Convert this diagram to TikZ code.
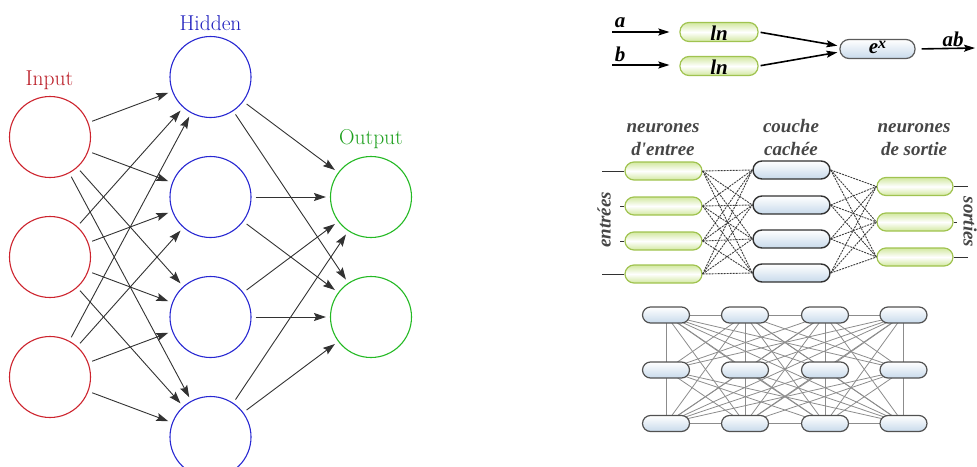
\documentclass[tikz,border=0pt]{standalone}
\usepackage{fontspec}
\newfontfamily\rfont{Liberation Serif}
\usetikzlibrary{arrows.meta,calc}
\pgfdeclarelayer{background}
\pgfsetlayers{background,main}
\definecolor{inred}{RGB}{205,35,45}
\definecolor{hidblue}{RGB}{40,40,210}
\definecolor{outgreen}{RGB}{35,185,35}
\definecolor{lblred}{RGB}{185,25,35}
\definecolor{lblblue}{RGB}{30,30,190}
\definecolor{lblgreen}{RGB}{30,160,30}
\definecolor{gborder}{RGB}{160,195,80}
\definecolor{gfill}{RGB}{210,232,160}
\definecolor{bfill}{RGB}{200,218,235}
\definecolor{darkline}{RGB}{50,50,50}
\tikzset{
  neuron/.style={circle, minimum size=81pt, inner sep=0pt, line width=1.1pt, fill=white},
  nnarrow/.style={draw=darkline, line width=0.9pt, shorten <=4pt, shorten >=4pt,
     -{Stealth[length=12pt,width=8pt,inset=2pt]}},
  lbl/.style={font=\fontsize{21.5}{24}\selectfont},
  gpill/.style={draw=gborder, line width=1.2pt, rounded corners=9pt, minimum height=18pt,
     top color=gfill, bottom color=gfill, middle color=white, inner sep=0pt},
  bpill/.style={draw=darkline, line width=1.4pt, rounded corners=9pt, minimum height=18pt,
     top color=white, bottom color=bfill, inner sep=0pt},
  spill/.style={draw=darkline!85, line width=1.2pt, rounded corners=8pt, minimum height=16pt,
     minimum width=47pt, top color=white, bottom color=bfill, inner sep=0pt},
  rtxt/.style={font=\rfont\bfseries\itshape\fontsize{21}{23}\selectfont, text=black, inner sep=0pt},
  mtxt/.style={font=\rfont\bfseries\itshape\fontsize{19}{21}\selectfont, text=darkline!90, inner sep=0pt, anchor=base},
  thickarrow/.style={line width=1.6pt, draw=black, -{Stealth[length=11pt,width=7pt,inset=2pt]}},
  mlink/.style={draw=darkline!95, line width=0.9pt, dash pattern=on 2pt off 1pt},
  glink/.style={draw=black!45, line width=0.8pt},
  stub/.style={draw=darkline, line width=0.8pt}
}
\begin{document}
\begin{tikzpicture}[x=1pt,y=-1pt]
\useasboundingbox (0,0) rectangle (977,466);
\clip (0,0) rectangle (977,466);

% ---------------- left network ----------------
\node[neuron, draw=inred] (in1) at (50,137) {};
\node[neuron, draw=inred] (in2) at (50,257) {};
\node[neuron, draw=inred] (in3) at (50,377) {};
\node[neuron, draw=hidblue] (hid1) at (210.5,77) {};
\node[neuron, draw=hidblue] (hid2) at (210.5,197) {};
\node[neuron, draw=hidblue] (hid3) at (210.5,317) {};
\node[neuron, draw=hidblue] (hid4) at (210.5,437) {};
\node[neuron, draw=outgreen] (out1) at (371,197) {};
\node[neuron, draw=outgreen] (out2) at (371,317) {};
\node[lbl, text=lblred] (tin) at (49.5,80) {Input};
\node[lbl, text=lblblue] (thid) at (210.5,23) {Hidden};
\node[lbl, text=lblgreen] (tout) at (371,139) {Output};
\foreach \i in {1,2,3}{\foreach \j in {1,2,3,4}{\draw[nnarrow] (in\i) -- (hid\j);}}
\foreach \j in {1,2,3,4}{\foreach \k in {1,2}{\draw[nnarrow] (hid\j) -- (out\k);}}

% ---------------- top right: a, b -> ln -> e^x ----------------
\node[gpill, minimum width=78pt, minimum height=19pt] (ln1) at (719,32) {};
\node[gpill, minimum width=78pt, minimum height=19pt] (ln2) at (719,66) {};
\node[bpill, draw=darkline!80, line width=1.2pt, minimum width=75pt, minimum height=19pt] (ex) at (877.5,49) {};
\node[rtxt] (tln1) at (719,33) {ln};
\node[rtxt] (tln2) at (719,67) {ln};
\node[rtxt] (tex) at (877.5,47) {e\raisebox{5pt}{\fontsize{16}{16}\selectfont x}};
\coordinate (ain) at (612,32);
\coordinate (bin) at (612,65);
\coordinate (abend) at (975,48);
\draw[thickarrow, shorten >=10pt] (ain) -- (ain -| ln1.west);
\draw[thickarrow, shorten >=10pt] (bin) -- (bin -| ln2.west);
\node[rtxt, anchor=base] (ta) at (620,27) {a};
\node[rtxt, anchor=base] (tb) at (620,61) {b};
\draw[thickarrow, shorten <=2pt, shorten >=2pt] (ln1.east) -- ([yshift=3pt]ex.west);
\draw[thickarrow, shorten <=2pt, shorten >=2pt] (ln2.east) -- ([yshift=-3pt]ex.west);
\draw[thickarrow, shorten <=6pt] (ex.east) -- (abend);
\node[rtxt, anchor=base] (tab) at (953,46) {ab};

% ---------------- middle right: layered network ----------------
\foreach \y [count=\r] in {171,206,241,274}{
  \node[gpill, minimum width=77pt] (a\r) at (663.5,\y) {};
}
\foreach \y [count=\r] in {170,205,239,273}{
  \node[bpill, minimum width=77pt] (h\r) at (791.5,\y) {};
}
\foreach \y [count=\r] in {186.5,222,257}{
  \node[gpill, minimum width=76pt] (o\r) at (915,\y) {};
}
\foreach \i in {1,2,3,4}{\foreach \j in {1,2,3,4}{\draw[mlink] (a\i.east) -- (h\j.west);}}
\foreach \i in {1,2,3,4}{\foreach \j in {1,2,3}{\draw[mlink] (h\i.east) -- (o\j.west);}}
\draw[stub] (a1.west) -- ++(-22,0);
\draw[stub] (a2.west) -- ++(-4,0);
\draw[stub] (a3.west) -- ++(-4,0);
\draw[stub] (a4.west) -- ++(-22,0);
\draw[stub] (o1.east) -- ++(14,0);
\draw[stub] (o2.east) -- ++(3,0);
\draw[stub] (o3.east) -- ++(14,0);
\node[mtxt] (l1a) at (663,132) {neurones};
\node[mtxt] (l1b) at (663,155) {d'entree};
\node[mtxt] (l2a) at (791,132) {couche};
\node[mtxt] (l2b) at (791,155) {cachée};
\node[mtxt] (l3a) at (914,132) {neurones};
\node[mtxt] (l3b) at (914,155) {de sortie};
\node[mtxt, anchor=center, rotate=90] (lent) at (604,220) {entrées};
\node[mtxt, anchor=center, rotate=-90] (lsor) at (970,222) {sorties};

% ---------------- bottom right: dense grid ----------------
\foreach \x [count=\c] in {666,745,825,903.5}{
  \foreach \y [count=\r] in {315,370,423.5}{
    \node[spill] (g\c\r) at (\x,\y) {};
  }
}
\begin{pgfonlayer}{background}
\foreach \c in {1,2,3,4}{\draw[glink] (g\c1.center) -- (g\c3.center);}
\foreach \c/\d in {1/2,2/3,3/4}{
  \draw[glink] (g\c1.center) -- (g\d1.center);
  \draw[glink] (g\c3.center) -- (g\d3.center);
}
\foreach \c/\d in {1/2,1/3,1/4,2/3,2/4,3/4}{
  \foreach \r/\s in {1/2,1/3,2/1,2/3,3/1,3/2}{
    \draw[glink] (g\c\r.center) -- (g\d\s.center);
  }
}
\end{pgfonlayer}
\end{tikzpicture}
\end{document}
